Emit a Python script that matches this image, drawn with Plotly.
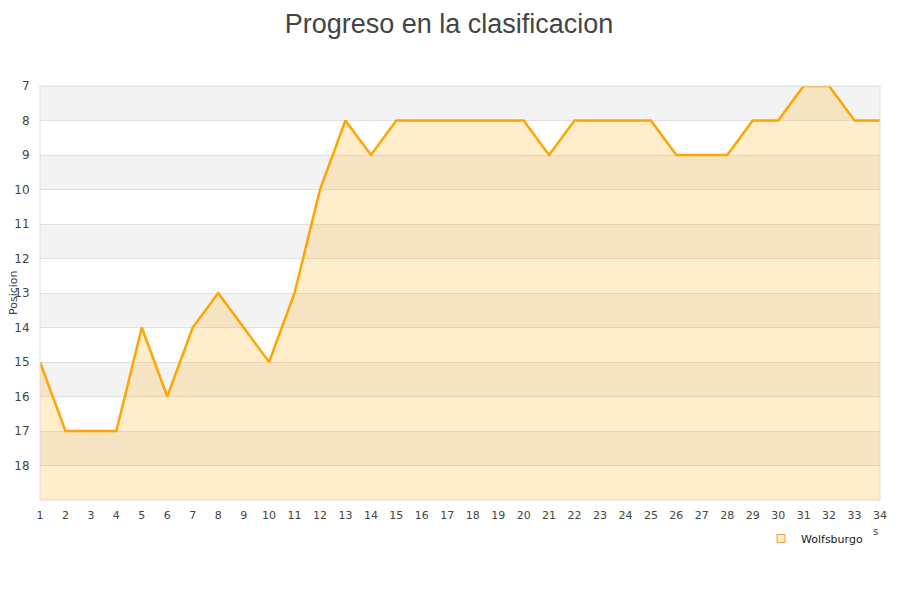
import plotly.graph_objects as go

jornadas = list(range(1, 35))
posiciones = [15, 17, 17, 17, 14, 16, 14, 13, 14, 15, 13, 10, 8, 9, 8, 8, 8, 8, 8, 8,
              9, 8, 8, 8, 8, 9, 9, 9, 8, 8, 7, 7, 8, 8]
equipo = "Wolfsburgo"
y_ticks = list(range(7, 19))
y_min, y_max = 7, 19

fig = go.Figure()

# baseline for fill
fig.add_trace(go.Scatter(x=jornadas, y=[y_max] * len(jornadas), mode="lines",
                         line=dict(width=0, color="rgba(0,0,0,0)"),
                         showlegend=False, hoverinfo="skip"))
fig.add_trace(go.Scatter(x=jornadas, y=posiciones, mode="lines", name=equipo,
                         fill="tonexty", fillcolor="rgba(255,165,0,0.2)",
                         line=dict(color="#ffa500", width=2.5), showlegend=False))
# legend entry
fig.add_trace(go.Scatter(x=[None], y=[None], mode="markers", name=equipo,
                         marker=dict(symbol="square", size=8, color="#ffedcc",
                                     line=dict(color="#e8a040", width=1))))

shapes = []
for v in range(y_min, y_max, 2):
    shapes.append(dict(type="rect", xref="paper", yref="y", x0=0, x1=1, y0=v, y1=v + 1,
                       fillcolor="#f3f3f3", line=dict(width=0), layer="below"))
shapes.append(dict(type="rect", xref="paper", yref="paper", x0=0, x1=1, y0=0, y1=1,
                   line=dict(color="#dddddd", width=1), fillcolor="rgba(0,0,0,0)", layer="above"))
fig.update_layout(shapes=shapes)

# page body has an 8px margin: plot area target 40..880 x 86..500 on screen
L, T = 32, 78
fig.update_layout(
    width=900, height=600,
    paper_bgcolor="white", plot_bgcolor="white",
    margin=dict(l=L, r=900 - L - 840, t=T, b=600 - T - 414, autoexpand=False),
    title=dict(text="Progreso en la clasificacion", x=(449 - 8) / 900, xanchor="center",
               y=0.99, yanchor="top", automargin=False, pad=dict(t=0),
               font=dict(family="Liberation Sans, Arial", size=27, color="#444444")),
    font=dict(family="DejaVu Sans", size=11, color="#444444"),
    xaxis=dict(range=[1, 34], tickmode="array", tickvals=jornadas, showgrid=False,
               zeroline=False, showline=False, ticks="outside", ticklen=5, tickcolor="rgba(0,0,0,0)",
               automargin=False, tickfont=dict(size=11, color="#444444")),
    yaxis=dict(range=[y_max, y_min], tickmode="array", tickvals=y_ticks, showgrid=True,
               gridcolor="#e0e0e0", gridwidth=1, zeroline=False, showline=False,
               ticks="outside", ticklen=7, tickcolor="rgba(0,0,0,0)", automargin=False,
               tickfont=dict(size=12, color="#444444")),
    legend=dict(x=(761 - 40) / 840, y=(500 - 524) / 414, xanchor="left", yanchor="top",
                orientation="h", font=dict(size=11, color="#222222"),
                bgcolor="rgba(0,0,0,0)", itemwidth=30),
)
fig.layout.annotations = [
    dict(text="s", x=(875 - 40) / 840, y=(500 - 531) / 414, xref="paper",
         yref="paper", showarrow=False, xanchor="center", yanchor="middle",
         font=dict(size=10, color="#444444")),
    dict(text="Posicion", textangle=-90, x=(13 - 40) / 840, y=(500 - 293) / 414,
         xref="paper", yref="paper", showarrow=False, xanchor="center", yanchor="middle",
         font=dict(size=11, color="#444444")),
]

fig.write_html("out.html")
